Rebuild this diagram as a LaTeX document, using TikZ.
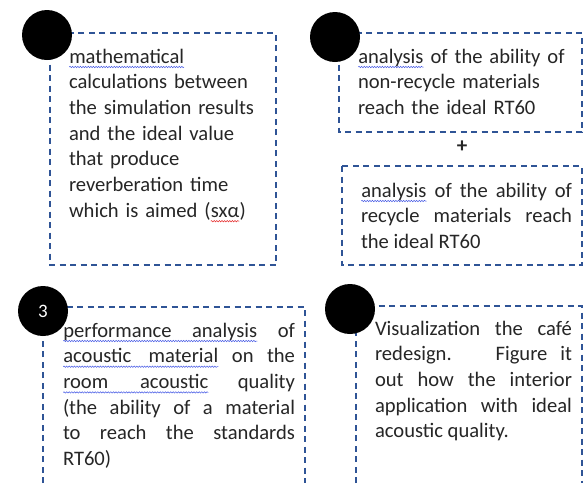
\documentclass[tikz,border=0pt]{standalone}
\usepackage{fontspec}
\setmainfont{Carlito}
\usetikzlibrary{decorations.pathmorphing}
\definecolor{boxblue}{RGB}{47,84,150}
\definecolor{txt}{RGB}{38,38,38}
\definecolor{sqblue}{RGB}{70,90,230}
\definecolor{sqred}{RGB}{230,40,40}
\tikzset{
  dbox/.style={draw=boxblue, line width=1.4pt, dash pattern=on 6pt off 4.5pt},
  dot/.style={circle, fill=black, minimum size=50pt, inner sep=0pt},
  para/.style={inner sep=0pt, outer sep=0pt, anchor=base west, text=txt, font=\fontsize{20.6}{25.7}\selectfont},
  sqline/.style={decorate, decoration={snake, amplitude=0.7pt, segment length=2.6pt}, line width=0.5pt}
}
\newcommand\sqw[2]{\tikz[baseline=(w.base)]{\node[inner sep=0pt,outer sep=0pt,text width={},anchor=base west](w){#2};\draw[#1,sqline]([yshift=-4pt]w.base west)--([yshift=-4pt]w.base east);}}
\begin{document}
\begin{tikzpicture}[x=1pt,y=-1pt]
\useasboundingbox[fill=white] (0,0) rectangle (585,483);
% boxes
\draw[dbox] (50,33) rectangle (276,265);
\draw[dbox] (339,33) rectangle (582,132);
\draw[dbox] (342,166) rectangle (582,265);
\draw[dbox] (43,483) -- (43,307) -- (305,307) -- (305,483);
\draw[dbox] (356,483) -- (356,306) -- (582,306) -- (582,483);
% circles
\node[dot] (c1) at (47,35) {};
\node[dot] (c2) at (335,37) {};
\node[dot, text=white, font=\fontsize{19}{19}\selectfont] (c3) at (43,311) {3};
\node[dot] (c4) at (350,309) {};
% texts
\node[para, text width=205pt, align=left] (t1) at (69,63)
 {\sqw{sqblue}{mathematical}\\calculations between\\the simulation results\\and the ideal value\\that produce\\reverberation time\\which is aimed (\sqw{sqred}{sxα})};
\node[para, text width=215pt, align=left] (t2) at (358,63)
 {\sqw{sqblue}{analysis} of the ability of\\non-recycle materials\\reach the ideal RT60};
\node[font=\fontsize{21}{25}\selectfont\bfseries, text=txt] (plus) at (462,147) {+};
\node[para, text width=211pt, align=justify] (t3) at (361,197)
 {\sqw{sqblue}{analysis} of the ability of\linebreak recycle materials reach\linebreak the ideal RT60};
\node[para, text width=232pt, align=justify] (t4) at (63,337)
 {\sqw{sqblue}{\makebox[194pt][s]{performance analysis}} of\linebreak \sqw{sqblue}{\makebox[155pt][s]{acoustic material}} on the\linebreak \sqw{sqblue}{\makebox[145pt][s]{room acoustic}} quality\linebreak (the ability of a material\linebreak to reach the standards\linebreak RT60)};
\node[para, text width=197pt, align=justify] (t5) at (375,335)
 {Visualization the café\linebreak redesign. \ Figure it\linebreak out how the interior\linebreak application with ideal\linebreak acoustic quality.};
\end{tikzpicture}
\end{document}
